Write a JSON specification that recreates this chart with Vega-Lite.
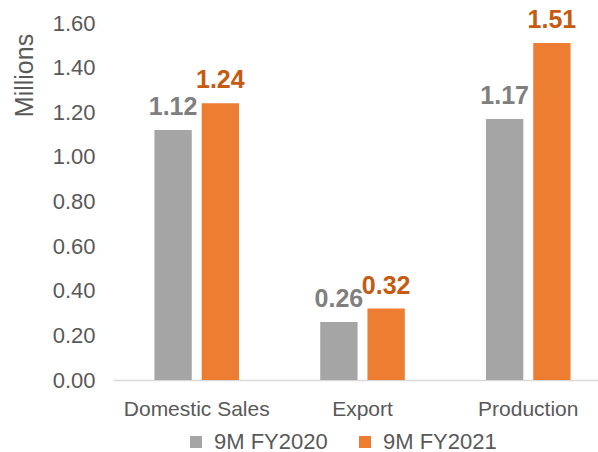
{
  "$schema": "https://vega.github.io/schema/vega-lite/v6.json",
  "width": 485,
  "height": 357,
  "autosize": "none",
  "padding": {"left": 113, "top": 23, "right": 0, "bottom": 72},
  "background": "white",
  "config": {"font": "Liberation Sans", "view": {"stroke": null}},
  "data": {
    "values": [
      {"category": "Domestic Sales", "series": "9M FY2020", "value": 1.12},
      {"category": "Domestic Sales", "series": "9M FY2021", "value": 1.24},
      {"category": "Export", "series": "9M FY2020", "value": 0.26},
      {"category": "Export", "series": "9M FY2021", "value": 0.32},
      {"category": "Production", "series": "9M FY2020", "value": 1.17},
      {"category": "Production", "series": "9M FY2021", "value": 1.51}
    ]
  },
  "encoding": {
    "x": {
      "field": "category",
      "type": "nominal",
      "sort": null,
      "scale": {"range": [0, 499], "paddingInner": 0.49, "paddingOuter": 0.25},
      "axis": {
        "title": null,
        "labelAngle": 0,
        "labelFontSize": 21,
        "labelColor": "#595959",
        "ticks": false,
        "labelPadding": 18,
        "domainColor": "#D9D9D9",
        "domainWidth": 1.5
      }
    },
    "xOffset": {"field": "series", "type": "nominal", "scale": {"paddingInner": 0.21}},
    "y": {
      "field": "value",
      "type": "quantitative",
      "scale": {"domain": [0, 1.6]},
      "axis": {
        "values": [0, 0.2, 0.4, 0.6, 0.8, 1.0, 1.2, 1.4, 1.6],
        "format": ".2f",
        "grid": false,
        "domain": false,
        "ticks": false,
        "labelPadding": 18,
        "labelFontSize": 22,
        "labelColor": "#595959",
        "title": "Millions",
        "titleFontSize": 25,
        "titleFontWeight": "normal",
        "titleColor": "#595959",
        "titleAngle": -90,
        "titleX": -89,
        "titleY": 52,
        "titleAlign": "center",
        "titleBaseline": "middle"
      }
    }
  },
  "layer": [
    {
      "mark": {"type": "bar"},
      "encoding": {
        "color": {
          "field": "series",
          "type": "nominal",
          "scale": {"range": ["#A5A5A5", "#ED7D31"]},
          "legend": {
            "orient": "none",
            "legendX": 72,
            "legendY": 408,
            "direction": "horizontal",
            "title": null,
            "symbolType": "square",
            "symbolSize": 144,
            "symbolStrokeWidth": 0,
            "labelFontSize": 22,
            "labelColor": "#595959",
            "labelOffset": 7,
            "columnPadding": 26,
            "padding": 0
          }
        }
      }
    },
    {
      "mark": {"type": "text", "fontSize": 25, "fontWeight": "bold", "baseline": "alphabetic", "dy": -15},
      "encoding": {
        "text": {"field": "value", "type": "quantitative", "format": ".2f"},
        "fill": {
          "field": "series",
          "type": "nominal",
          "scale": {"range": ["#7F7F7F", "#C55A11"]},
          "legend": null
        }
      }
    }
  ]
}
